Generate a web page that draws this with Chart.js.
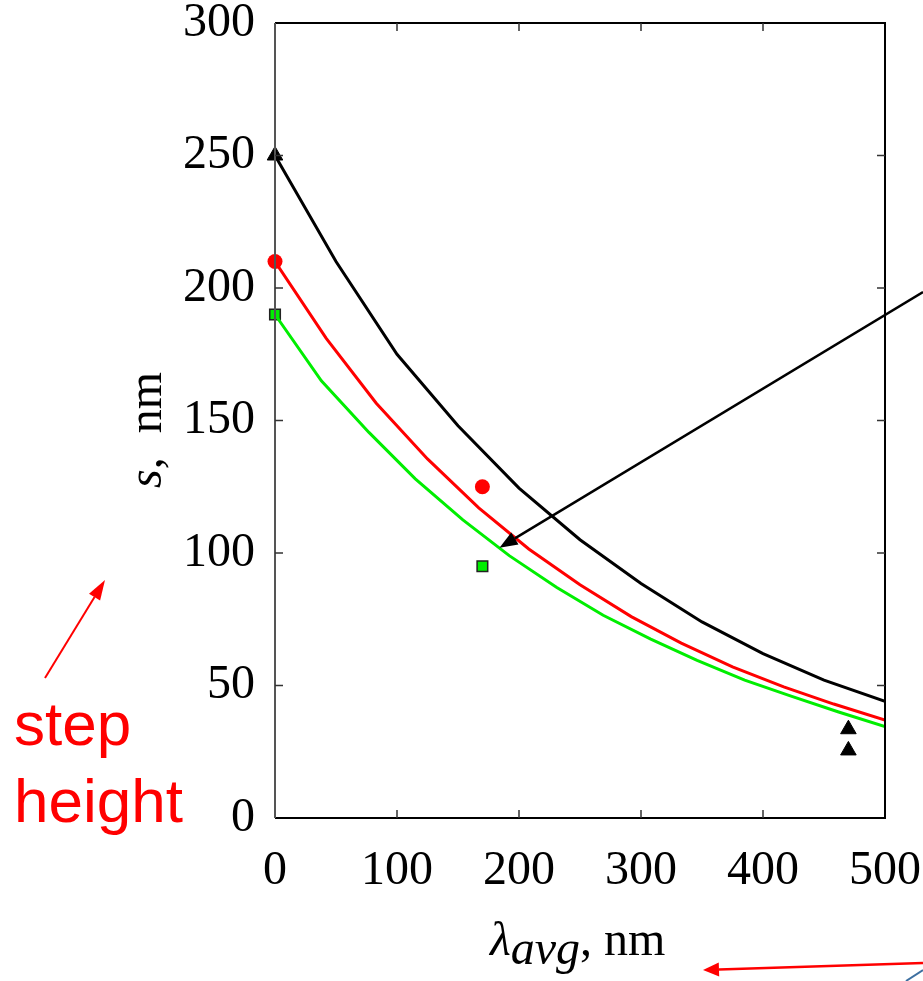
<!DOCTYPE html>
<html>
<head>
<meta charset="utf-8">
<script src="https://cdn.jsdelivr.net/npm/chart.js@4/dist/chart.umd.min.js"></script>
<style>
  html, body { margin: 0; padding: 0; background: #fff; }
  #wrap { width: 923px; height: 981px; position: relative; }
</style>
</head>
<body>
<div id="wrap"><canvas id="chart" width="923" height="981"></canvas></div>
<script>
// Kurven
const schwarzX = [0, 50, 100, 150, 200, 250, 300, 350, 400, 450, 500];
const schwarzY = [250, 210, 175, 148, 124.5, 105, 88.5, 74, 62, 52, 44];

const rotX = [0, 42, 83, 125, 167, 208, 250, 292, 333, 375, 417, 458, 500];
const rotY = [210, 181, 156.5, 135.5, 117, 101.5, 88, 76, 66, 57, 49.5, 43, 37];

const gruenX = [0, 38, 77, 115, 154, 192, 231, 269, 308, 346, 385, 423, 462, 500];
const gruenY = [190, 165, 145.5, 128, 112.5, 99, 87, 76.5, 67.5, 59.5, 52, 46, 40, 34.5];

// Messpunkte
const dreieckX = [0, 470, 470];
const dreieckY = [250, 33.5, 25.5];
const kreisX = [0, 170];
const kreisY = [210, 125];
const quadratX = [0, 170];
const quadratY = [190, 95];

// Achsen
const xTicks = [0, 100, 200, 300, 400, 500];
const yTicks = [0, 50, 100, 150, 200, 250, 300];

const punkte = (xs, ys) => xs.map((x, i) => ({ x: x, y: ys[i] }));

const serif = "'Liberation Serif', 'DejaVu Serif', serif";

function pfeil(ctx, x1, y1, x2, y2, farbe, breite, kopfL, kopfB) {
  const w = Math.atan2(y2 - y1, x2 - x1);
  const bx = x2 - kopfL * Math.cos(w), by = y2 - kopfL * Math.sin(w);
  ctx.save();
  ctx.strokeStyle = farbe;
  ctx.fillStyle = farbe;
  ctx.lineWidth = breite;
  ctx.beginPath();
  ctx.moveTo(x1, y1);
  ctx.lineTo(bx, by);
  ctx.stroke();
  ctx.beginPath();
  ctx.moveTo(x2, y2);
  ctx.lineTo(bx + kopfB / 2 * Math.sin(w), by - kopfB / 2 * Math.cos(w));
  ctx.lineTo(bx - kopfB / 2 * Math.sin(w), by + kopfB / 2 * Math.cos(w));
  ctx.closePath();
  ctx.fill();
  ctx.restore();
}

// Rahmen, innere Ticks, Achsentitel und Anmerkungen
const extras = {
  id: "extras",
  afterDraw(chart) {
    const ctx = chart.ctx;
    const a = chart.chartArea;
    const sx = chart.scales.x, sy = chart.scales.y;
    ctx.save();
    // Rahmen
    ctx.lineWidth = 2;
    ctx.strokeStyle = "#000";
    ctx.beginPath();
    ctx.moveTo(a.left, a.top); ctx.lineTo(a.right, a.top); ctx.lineTo(a.right, a.bottom); ctx.lineTo(a.left, a.bottom);
    ctx.stroke();
    ctx.strokeStyle = "#555";
    ctx.beginPath();
    ctx.moveTo(a.left, a.top); ctx.lineTo(a.left, a.bottom);
    ctx.stroke();
    // Ticks nach innen
    ctx.strokeStyle = "#333";
    ctx.lineWidth = 1.5;
    const tl = 8;
    ctx.beginPath();
    xTicks.slice(1, -1).forEach(v => {
      const px = sx.getPixelForValue(v);
      ctx.moveTo(px, a.bottom); ctx.lineTo(px, a.bottom - tl);
      ctx.moveTo(px, a.top); ctx.lineTo(px, a.top + tl);
    });
    yTicks.slice(1, -1).forEach(v => {
      const py = sy.getPixelForValue(v);
      ctx.moveTo(a.left, py); ctx.lineTo(a.left + tl, py);
      ctx.moveTo(a.right, py); ctx.lineTo(a.right - tl, py);
    });
    ctx.stroke();

    // y-Titel
    ctx.fillStyle = "#000";
    ctx.save();
    ctx.translate(161, 424);
    ctx.rotate(-Math.PI / 2);
    ctx.textBaseline = "alphabetic";
    ctx.textAlign = "left";
    ctx.font = "italic 48px " + serif;
    const sBreite = ctx.measureText("s").width;
    ctx.fillText("s", -64, 0);
    ctx.font = "48px " + serif;
    ctx.fillText(",  nm", -64 + sBreite, 0);
    ctx.restore();

    // x-Titel
    ctx.textBaseline = "alphabetic";
    ctx.textAlign = "left";
    let x = 490;
    ctx.font = "italic 48px " + serif;
    ctx.fillText("\u03bb", x, 955);
    x += ctx.measureText("\u03bb").width;
    ctx.fillText("avg", x, 964);
    x += ctx.measureText("avg").width;
    ctx.font = "48px " + serif;
    ctx.fillText(", nm", x, 955);

    // step height
    ctx.fillStyle = "#ff0000";
    ctx.font = "62px 'Liberation Sans', Arial, sans-serif";
    ctx.fillText("step", 14, 745);
    ctx.fillText("height", 14, 822);

    // Pfeile
    pfeil(ctx, 923, 292, sx.getPixelForValue(184), sy.getPixelForValue(102), "#000", 2.5, 18, 14);
    pfeil(ctx, 45, 678, 105, 580, "#ff0000", 2, 20, 13);
    pfeil(ctx, 923, 963, 703, 970, "#ff0000", 2.5, 16, 14);
    // blaue Linie unten rechts
    ctx.strokeStyle = "#3d6fa0";
    ctx.lineWidth = 2;
    ctx.beginPath();
    ctx.moveTo(906, 981); ctx.lineTo(923, 970);
    ctx.stroke();
    ctx.restore();
  }
};

new Chart(document.getElementById("chart").getContext("2d"), {
  type: "scatter",
  data: {
    datasets: [
      { label: "schwarz", data: punkte(schwarzX, schwarzY), showLine: true, borderColor: "#000", borderWidth: 3, pointRadius: 0, tension: 0 },
      { label: "rot", data: punkte(rotX, rotY), showLine: true, borderColor: "#ff0000", borderWidth: 3, pointRadius: 0, tension: 0 },
      { label: "grün", data: punkte(gruenX, gruenY), showLine: true, borderColor: "#00ee00", borderWidth: 3, pointRadius: 0, tension: 0 },
      { label: "Dreiecke", data: punkte(dreieckX, dreieckY), pointStyle: "triangle", pointRadius: 9, backgroundColor: "#000", borderColor: "#000", borderWidth: 1, clip: false },
      { label: "Kreise", data: punkte(kreisX, kreisY), pointStyle: "circle", pointRadius: 7.5, backgroundColor: "#ff0000", borderColor: "#ff0000", borderWidth: 0, clip: false },
      { label: "Quadrate", data: punkte(quadratX, quadratY), pointStyle: "rect", pointRadius: 7.5, backgroundColor: "#00ee00", borderColor: "#222", borderWidth: 1.5, clip: false }
    ]
  },
  options: {
    responsive: false,
    animation: false,
    devicePixelRatio: 1,
    layout: { padding: { top: 23, right: 38, left: 0, bottom: 0 } },
    plugins: { legend: { display: false }, tooltip: { enabled: false } },
    scales: {
      x: {
        type: "linear", min: 0, max: 500,
        afterBuildTicks: s => { s.ticks = xTicks.map(v => ({ value: v })); },
        afterFit: s => { s.height = 163; s.paddingLeft = 0; s.paddingRight = 0; },
        grid: { display: false, drawTicks: false },
        border: { display: false },
        ticks: { color: "#000", padding: 25, maxRotation: 0, font: { family: serif, size: 48 } }
      },
      y: {
        type: "linear", min: 0, max: 300,
        afterBuildTicks: s => { s.ticks = yTicks.map(v => ({ value: v })); },
        afterFit: s => { s.width = 275; s.paddingTop = 0; s.paddingBottom = 0; },
        grid: { display: false, drawTicks: false },
        border: { display: false },
        ticks: { color: "#000", padding: 20, font: { family: serif, size: 48 } }
      }
    }
  },
  plugins: [extras]
});
</script>
</body>
</html>
